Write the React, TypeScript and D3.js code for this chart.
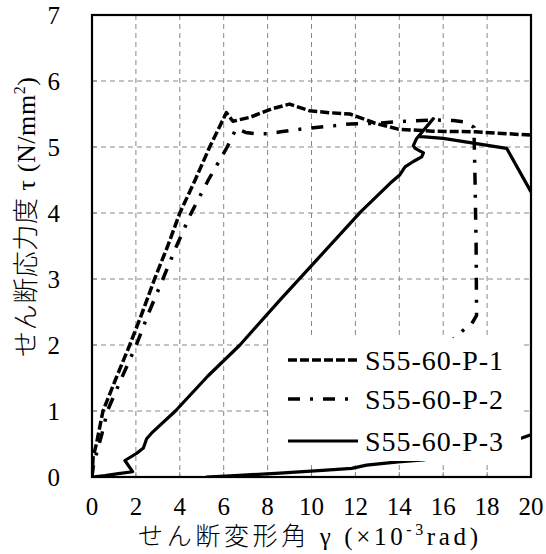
import React from "react";
import * as d3 from "d3";

type Pt = [number, number];

const xTicks = [0, 2, 4, 6, 8, 10, 12, 14, 16, 18, 20];
const yTicks = [0, 1, 2, 3, 4, 5, 6, 7];
const seriesNames = ["S55-60-P-1", "S55-60-P-2", "S55-60-P-3"];

const p1: Pt[] = [
  [0, 0], [0.05, 0.3], [0.2, 0.5], [0.5, 1.0], [1.1, 1.5], [1.72, 2.0], [2.3, 2.5],
  [2.85, 3.0], [3.45, 3.5], [4.0, 4.0], [4.7, 4.5], [5.36, 5.0], [5.8, 5.3], [6.12, 5.52],
  [6.42, 5.39], [7.2, 5.45], [8.2, 5.58], [9.0, 5.65], [9.9, 5.55], [10.8, 5.52],
  [11.75, 5.5], [12.9, 5.36], [13.95, 5.27], [15.5, 5.24], [17.45, 5.23], [20, 5.18],
];

const p2: Pt[] = [
  [0, 0], [0.05, 0.15], [0.2, 0.35], [0.45, 0.65], [0.7, 1.0], [1.35, 1.5], [2.02, 2.0],
  [2.6, 2.5], [3.23, 3.0], [3.85, 3.5], [4.52, 4.0], [5.3, 4.5], [6.16, 5.0], [6.57, 5.28],
  [7.0, 5.22], [7.5, 5.2], [8.0, 5.2], [8.6, 5.23], [9.7, 5.28], [11.0, 5.32], [11.75, 5.35],
  [13.0, 5.36], [14.26, 5.39], [15.55, 5.41], [16.46, 5.4], [17.0, 5.38], [17.4, 5.3],
  [17.45, 4.5], [17.5, 3.5], [17.52, 2.45], [17.3, 2.32], [17.0, 2.25], [16.5, 2.1], [16.0, 1.9],
];

const p3: Pt[] = [
  [0, 0], [0.6, 0.02], [1.2, 0.05], [1.85, 0.08], [1.5, 0.25], [2.04, 0.36], [2.34, 0.44],
  [2.49, 0.58], [2.7, 0.66], [3.8, 1.0], [5.28, 1.53], [6.74, 2.0], [8.56, 2.68],
  [10.24, 3.29], [12.25, 4.02], [13.58, 4.45], [14.03, 4.58], [14.26, 4.7], [14.64, 4.78],
  [15.02, 4.85], [15.1, 4.91], [14.72, 4.98], [14.64, 5.02], [14.79, 5.13], [15.55, 5.43],
  [14.87, 5.16], [16.0, 5.13], [18.89, 4.98], [20, 4.32],
];

const p3Return: Pt[] = [
  [20, 0.64], [19.58, 0.59], [17.5, 0.4], [15.09, 0.26], [13.95, 0.23], [12.51, 0.18],
  [11.83, 0.13], [10.5, 0.1], [8.56, 0.06], [6.5, 0.02], [5.2, 0],
];

const W = 546;
const H = 554;
const L = 92, R = 531, T = 15, B = 477;

const FONT = "'Liberation Serif', 'Noto Sans CJK JP', serif";

export default function App() {
  const x = d3.scaleLinear().domain([0, 20]).range([L, R]);
  const y = d3.scaleLinear().domain([0, 7]).range([B, T]);
  const line = d3.line<Pt>().x((d) => x(d[0])).y((d) => y(d[1]));

  const styles = [
    { dash: "9,3", width: 3.5 },
    { dash: "12,10,3,10", width: 3.5 },
    { dash: "none", width: 3.2 },
  ];

  const legendY = [360, 399, 441];

  return (
    <svg
      width={W}
      height={H}
      style={{ position: "absolute", left: 0, top: 0, display: "block", background: "#fff" }}
    >
      <defs>
        <clipPath id="plotClip">
          <rect x={L} y={T} width={R - L} height={B - T} />
        </clipPath>
      </defs>
      <rect x={0} y={0} width={W} height={H} fill="#fff" />
      {/* grid */}
      <g stroke="#888" strokeWidth={1} strokeDasharray="5,4">
        {xTicks.slice(1, -1).map((t) => (
          <line key={"gx" + t} x1={x(t)} x2={x(t)} y1={T} y2={B} />
        ))}
        {yTicks.slice(1, -1).map((t) => (
          <line key={"gy" + t} x1={L} x2={R} y1={y(t)} y2={y(t)} />
        ))}
      </g>
      {/* ticks */}
      <g stroke="#888" strokeWidth={1}>
        {xTicks.map((t) => (
          <line key={"tx" + t} x1={x(t)} x2={x(t)} y1={B} y2={B - 5} />
        ))}
        {yTicks.map((t) => (
          <line key={"ty" + t} x1={L} x2={L + 5} y1={y(t)} y2={y(t)} />
        ))}
      </g>
      {/* series */}
      <g clipPath="url(#plotClip)" fill="none" stroke="#000" strokeLinejoin="round">
        <path d={line(p1) || ""} strokeWidth={styles[0].width} strokeDasharray={styles[0].dash} />
        <path d={line(p2) || ""} strokeWidth={styles[1].width} strokeDasharray={styles[1].dash} />
        <path d={line(p3) || ""} strokeWidth={styles[2].width} />
        <path d={line(p3Return) || ""} strokeWidth={styles[2].width} />
      </g>
      {/* legend */}
      <rect x={271} y={338} width={250} height={123} fill="#fff" />
      {seriesNames.map((n, i) => (
        <g key={n}>
          <line
            x1={288}
            x2={358}
            y1={legendY[i]}
            y2={legendY[i]}
            stroke="#000"
            strokeWidth={styles[i].width}
            strokeDasharray={styles[i].dash}
          />
          <text
            x={365}
            y={legendY[i] + 10}
            fontFamily={FONT}
            fontSize={28}
            textLength={138}
            lengthAdjust="spacing"
          >
            {n}
          </text>
        </g>
      ))}
      {/* frame */}
      <rect x={L} y={T} width={R - L} height={B - T} fill="none" stroke="#000" strokeWidth={2.2} />
      {/* tick labels */}
      <g fontFamily={FONT} fontSize={25} fill="#000">
        {xTicks.map((t) => (
          <text key={"lx" + t} x={x(t)} y={515} textAnchor="middle">
            {t}
          </text>
        ))}
        {yTicks.map((t) => (
          <text key={"ly" + t} x={60} y={y(t)} dy="0.35em" textAnchor="end">
            {t}
          </text>
        ))}
      </g>
      {/* axis titles */}
      <text
        x={138}
        y={545}
        textAnchor="start"
        fontFamily={FONT}
        fontSize={25}
        fontWeight={300}
        textLength={340}
        lengthAdjust="spacing"
      >
        せん断変形角 γ (×10
        <tspan dy={-10} fontSize={16}>-3</tspan>
        <tspan dy={10}>rad)</tspan>
      </text>
      <text
        transform="translate(35,357) rotate(-90)"
        textAnchor="start"
        fontFamily={FONT}
        fontSize={26}
        fontWeight={300}
        textLength={280}
        lengthAdjust="spacing"
      >
        せん断応力度 τ (N/mm
        <tspan dy={-10} fontSize={16}>2</tspan>
        <tspan dy={10}>)</tspan>
      </text>
    </svg>
  );
}
